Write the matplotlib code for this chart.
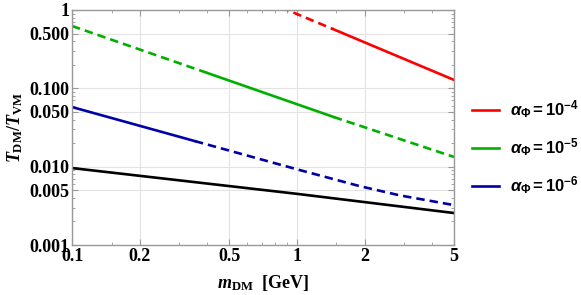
import numpy as np
import matplotlib
matplotlib.use('Agg')
import matplotlib.pyplot as plt
from matplotlib.ticker import FixedLocator, FixedFormatter, NullFormatter

plt.rcParams['mathtext.fontset'] = 'custom'
plt.rcParams['mathtext.rm'] = 'Liberation Serif:bold'
plt.rcParams['mathtext.it'] = 'Liberation Serif:bold:italic'
plt.rcParams['mathtext.bf'] = 'Liberation Serif:bold'
plt.rcParams['mathtext.sf'] = 'Liberation Sans:bold'
plt.rcParams['mathtext.cal'] = 'Liberation Sans:bold:italic'

# valori (m_DM in GeV, T_DM/T_VM)
red_dash_m = [0.85, 1.45]
red_dash_T = [1.08, 0.57]
red_solid_m = [1.45, 5.0]
red_solid_T = [0.57, 0.128]

green_dash1_m = [0.1, 0.40]
green_dash1_T = [0.625, 0.157]
green_solid_m = [0.40, 1.46]
green_solid_T = [0.157, 0.043]
green_dash2_m = [1.46, 5.0]
green_dash2_T = [0.043, 0.0133]

blue_solid_m = [0.1, 0.352]
blue_solid_T = [0.0577, 0.0212]
blue_dash_m = [0.352, 1.03, 1.9, 2.87, 5.0]
blue_dash_T = [0.0212, 0.00905, 0.00565, 0.0043, 0.00323]

black_m = [0.1, 1.0, 5.0]
black_T = [0.0096, 0.0045, 0.00256]

legend_labels = [r'$\mathcal{α}_{\mathsf{Φ}}\mathsf{{=}10^{-4}}$',
                 r'$\mathcal{α}_{\mathsf{Φ}}\mathsf{{=}10^{-5}}$',
                 r'$\mathcal{α}_{\mathsf{Φ}}\mathsf{{=}10^{-6}}$']

x_ticks = [0.1, 0.2, 0.5, 1, 2, 5]
x_labels = ['0.1', '0.2', '0.5', '1', '2', '5']
x_minor = [0.15, 0.3, 0.4, 0.6, 0.7, 0.8, 0.9, 1.5, 3, 4]
y_ticks = [0.001, 0.005, 0.01, 0.05, 0.1, 0.5, 1]
y_labels = ['0.001', '0.005', '0.010', '0.050', '0.100', '0.500', '1']

RED = '#ff0000'
GREEN = '#00b000'
BLUE = '#0000a8'
lw = 1.9
dash = (3.2, 1.9)

fig = plt.figure(figsize=(5.81, 2.95), dpi=100)
ax = fig.add_axes([72/581, 1-245/295, (454-72)/581, (245-10)/295])
ax.set_xscale('log')
ax.set_yscale('log')
ax.set_xlim(0.1, 5)
ax.set_ylim(0.001, 1)

ax.plot(red_dash_m, red_dash_T, color=RED, lw=lw, dashes=dash)
h1, = ax.plot(red_solid_m, red_solid_T, color=RED, lw=lw)
ax.plot(green_dash1_m, green_dash1_T, color=GREEN, lw=lw, dashes=dash)
h2, = ax.plot(green_solid_m, green_solid_T, color=GREEN, lw=lw)
ax.plot(green_dash2_m, green_dash2_T, color=GREEN, lw=lw, dashes=dash)
h3, = ax.plot(blue_solid_m, blue_solid_T, color=BLUE, lw=lw)
ax.plot(blue_dash_m, blue_dash_T, color=BLUE, lw=lw, dashes=dash)
ax.plot(black_m, black_T, color='black', lw=lw)

# axe si grila in stil Mathematica
ax.xaxis.set_major_locator(FixedLocator(x_ticks))
ax.xaxis.set_major_formatter(FixedFormatter(x_labels))
ax.xaxis.set_minor_locator(FixedLocator(x_minor))
ax.xaxis.set_minor_formatter(NullFormatter())
ax.yaxis.set_major_locator(FixedLocator(y_ticks))
ax.yaxis.set_major_formatter(FixedFormatter(y_labels))
y_minor = [k * 10.0**e for e in (-3, -2, -1) for k in range(2, 10) if k != 5]
ax.yaxis.set_minor_locator(FixedLocator(y_minor))
ax.yaxis.set_minor_formatter(NullFormatter())

ax.grid(True, which='major', color='#e3e3e3', lw=0.8)
ax.set_axisbelow(True)
for s in ax.spines.values():
    s.set_color('#999999')
    s.set_linewidth(1.0)
ax.tick_params(which='both', direction='in', top=True, right=True,
               color='#999999', labelcolor='black')
ax.tick_params(which='major', length=4, width=0.8, pad=2)
ax.tick_params(which='minor', length=2, width=0.6)
for lab in ax.get_xticklabels() + ax.get_yticklabels():
    lab.set_fontfamily('Liberation Serif')
    lab.set_fontweight('bold')
    lab.set_fontsize(13)

ax.set_xlabel(r'$m_{\rm DM}\ \ $[GeV]', fontsize=13, fontfamily='Liberation Serif',
              fontweight='bold', labelpad=6)
ax.set_ylabel(r'$T_{\rm DM}/T_{\rm VM}$', fontsize=13, labelpad=3)

fig.legend([h1, h2, h3], legend_labels, loc='center left',
           bbox_to_anchor=(472/581, 1-148/295), frameon=False,
           borderaxespad=0, borderpad=0,
           fontsize=12, handlelength=1.6, handletextpad=0.7, labelspacing=0.95)

fig.savefig('out.png', dpi=100)
